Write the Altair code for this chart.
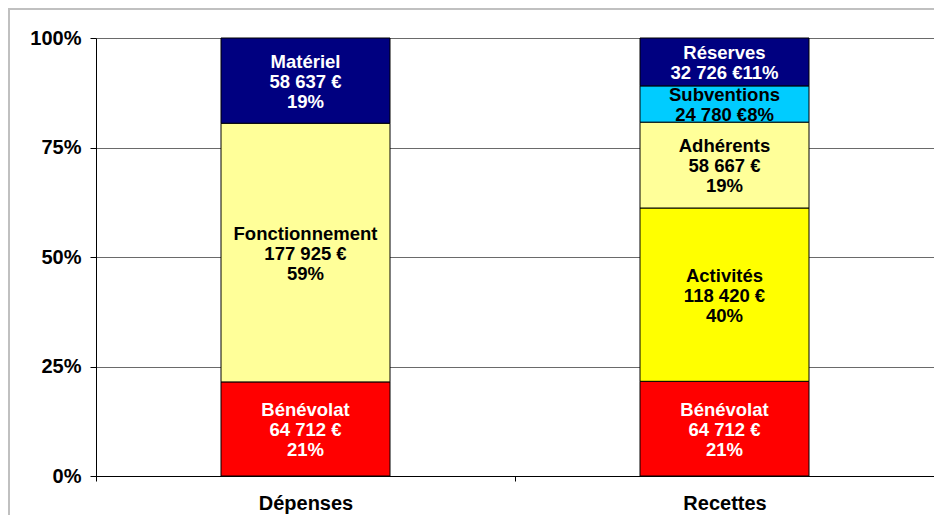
import altair as alt
import pandas as pd

# ---- data ----
categories = ["Dépenses", "Recettes"]
category = ["Dépenses", "Dépenses", "Dépenses",
            "Recettes", "Recettes", "Recettes", "Recettes", "Recettes"]
segment = ["Bénévolat", "Fonctionnement", "Matériel",
           "Bénévolat", "Activités", "Adhérents", "Subventions", "Réserves"]
amount = [64712, 177925, 58637, 64712, 118420, 58667, 24780, 32726]
pct_label = ["21%", "59%", "19%", "21%", "40%", "19%", "8%", "11%"]
two_line = ["Subventions", "Réserves"]   # labels written on two lines
y_ticks = [0, 0.25, 0.5, 0.75, 1]

# ---- styling ----
seg_domain = ["Bénévolat", "Fonctionnement", "Matériel", "Activités",
              "Adhérents", "Subventions", "Réserves"]
seg_colors = ["#FF0000", "#FFFF99", "#000080", "#FFFF00",
              "#FFFF99", "#00CCFF", "#000080"]
white_text = ["Bénévolat", "Matériel", "Réserves"]
FONT = "Liberation Sans"
LH = 20


def fmt(v):
    return f"{v:,}".replace(",", " ") + " €"


labels, nlines = [], []
for s, a, p in zip(segment, amount, pct_label):
    if s in two_line:
        labels.append(f"{s}\n{fmt(a)}{p}")
        nlines.append(2)
    else:
        labels.append(f"{s}\n{fmt(a)}\n{p}")
        nlines.append(3)

df = pd.DataFrame({
    "category": category,
    "seg": segment,
    "amount": amount,
    "order": list(range(len(category))),
    "label": labels,
    "nl": nlines,
    "tc": ["white" if s in white_text else "black" for s in segment],
})

W, H = 838, 438

base = alt.Chart(df).transform_stack(
    stack="amount",
    as_=["y0", "y1"],
    groupby=["category"],
    sort=[alt.SortField("order", order="ascending")],
    offset="normalize",
).transform_calculate(mid="(datum.y0 + datum.y1) / 2")

xenc = alt.X(
    "category:N",
    sort=categories,
    title=None,
    scale=alt.Scale(paddingInner=0, paddingOuter=0),
    axis=alt.Axis(
        labelAngle=0, labelFont=FONT, labelFontWeight="bold", labelFontSize=20,
        labelColor="black", labelBaseline="middle", labelPadding=22,
        tickBand="extent", tickSize=5,
        tickColor="black", domainColor="black", grid=False,
    ),
)

yscale = alt.Scale(domain=[0, 1], nice=False)

bars = base.mark_bar(size=169, stroke="black", strokeWidth=1).encode(
    x=xenc,
    y=alt.Y(
        "y0:Q", scale=yscale, title=None,
        axis=alt.Axis(
            values=y_ticks, format=".0%", labelFont=FONT, labelFontWeight="bold",
            labelFontSize=20, labelColor="black", labelPadding=9, tickSize=6,
            tickColor="black", domainColor="black", grid=True, gridColor="#6a6a6a",
        ),
    ),
    y2="y1:Q",
    color=alt.Color("seg:N", scale=alt.Scale(domain=seg_domain, range=seg_colors),
                    legend=None),
)


def text_layer(n):
    return base.transform_filter(f"datum.nl == {n}").mark_text(
        font=FONT, fontWeight="bold", fontSize=18.5, lineBreak="\n", lineHeight=LH,
        baseline="middle", align="center", dy=-(n - 1) * LH / 2 + 1,
    ).encode(
        x=alt.X("category:N", sort=categories),
        y=alt.Y("mid:Q", scale=yscale),
        text="label:N",
        color=alt.Color("tc:N", scale=None),
    )


border = alt.Chart(pd.DataFrame({"k": [0]})).mark_rect(
    fillOpacity=0, stroke="#c0c0c0", strokeWidth=2
).encode(
    x=alt.value(-87), x2=alt.value(W + 40), y=alt.value(-29), y2=alt.value(H + 80)
)

chart = alt.layer(bars, text_layer(3), text_layer(2), border).resolve_scale(
    color="independent"
).properties(
    width=W, height=H,
    autosize=alt.AutoSizeParams(type="none"),
    padding={"left": 88, "top": 30, "right": 0, "bottom": 39},
).configure_view(stroke="#999999", strokeWidth=1).configure(background="white")

chart.save("out.html", embed_options={"renderer": "svg", "actions": False})
